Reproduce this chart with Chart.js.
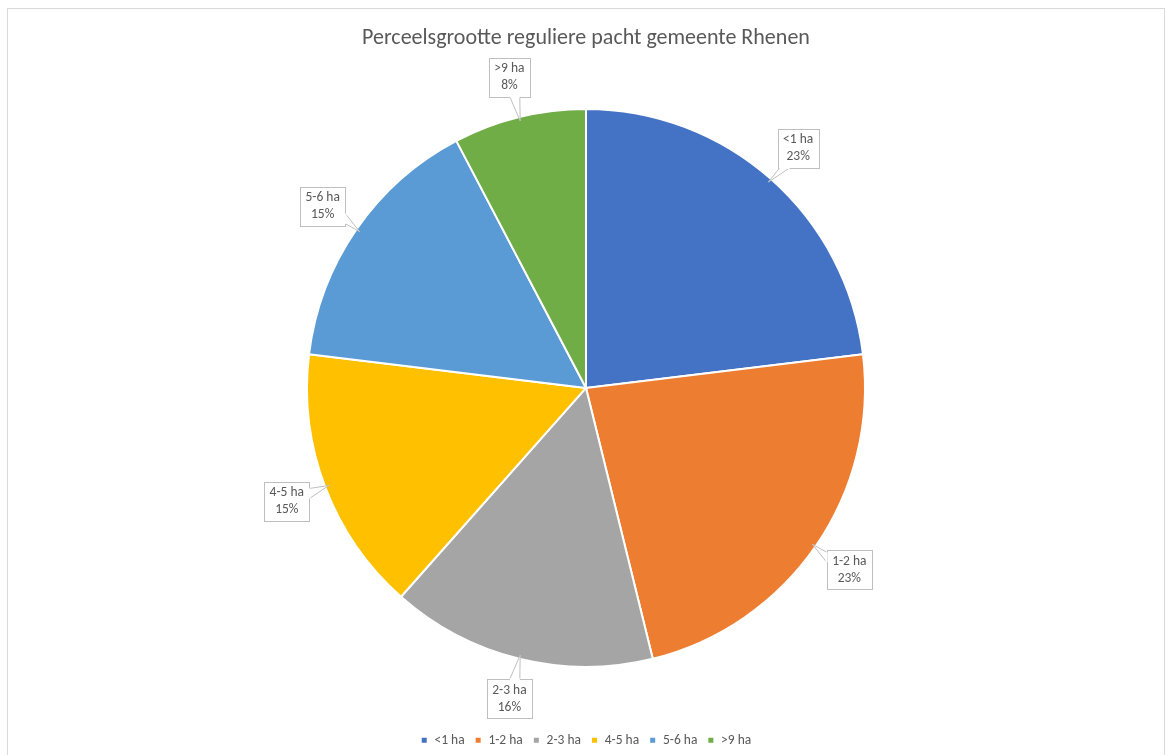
<!DOCTYPE html>
<html>
<head>
<meta charset="utf-8">
<script src="https://cdn.jsdelivr.net/npm/chart.js@4.4.1/dist/chart.umd.min.js"></script>
<style>
  html, body { margin: 0; padding: 0; background: #fff; overflow: hidden; }
  #frame { position: absolute; left: 7px; top: 8px; width: 1158px; height: 780px; border: 1px solid #d9d9d9; box-sizing: border-box; }
  #wrap { position: absolute; left: 0; top: 0; width: 1156px; height: 748px; }
</style>
</head>
<body>
<div id="frame"><div id="wrap"><canvas id="c"></canvas></div></div>
<script>
const categories = ['<1 ha', '1-2 ha', '2-3 ha', '4-5 ha', '5-6 ha', '>9 ha'];
const counts = [3, 3, 2, 2, 2, 1];
const percentLabels = ['23%', '23%', '16%', '15%', '15%', '8%'];
const colors = ['#4472C4', '#ED7D31', '#A5A5A5', '#FFC000', '#5B9BD5', '#70AD47'];
const titleText = 'Perceelsgrootte reguliere pacht gemeente Rhenen';

const FONT = "Carlito, Calibri, 'Open Sans', 'Liberation Sans', sans-serif";

const calloutPlugin = {
  id: 'callouts',
  afterDatasetsDraw(chart) {
    const ctx = chart.ctx;
    const meta = chart.getDatasetMeta(0);
    ctx.save();
    ctx.font = '13.5px ' + FONT;
    meta.data.forEach((arc, i) => {
      const p = arc.getProps(['x', 'y', 'startAngle', 'endAngle', 'outerRadius']);
      const mid = (p.startAngle + p.endAngle) / 2;
      const dist = p.outerRadius + 41;
      const cx = p.x + Math.cos(mid) * dist;
      const cy = p.y + Math.sin(mid) * dist;
      const l1 = categories[i], l2 = percentLabels[i];
      const w = Math.max(ctx.measureText(l1).width, ctx.measureText(l2).width) + 11;
      const h = 39;
      const bx = cx - w / 2, by = cy - h / 2;
      const tx = p.x + Math.cos(mid) * (p.outerRadius - 4);
      const ty = p.y + Math.sin(mid) * (p.outerRadius - 4);
      const vx = tx - cx, vy = ty - cy;
      let b1, b2;
      const half = 5;
      if (Math.abs(vx) / w > Math.abs(vy) / h) {
        const sx = vx > 0 ? bx + w : bx;
        let yy = Math.min(Math.max(cy + vy * 0.5, by + half + 2), by + h - half - 2);
        b1 = [sx, yy - half]; b2 = [sx, yy + half];
      } else {
        const sy = vy > 0 ? by + h : by;
        let xx = Math.min(Math.max(cx + vx * 0.5, bx + half + 2), bx + w - half - 2);
        b1 = [xx - half, sy]; b2 = [xx + half, sy];
      }
      ctx.lineWidth = 1;
      ctx.strokeStyle = '#bfbfbf';
      ctx.fillStyle = '#ffffff';
      ctx.fillRect(bx, by, w, h);
      ctx.strokeRect(Math.round(bx) + 0.5, Math.round(by) + 0.5, Math.round(w), Math.round(h));
      ctx.beginPath();
      ctx.moveTo(b1[0], b1[1]);
      ctx.lineTo(tx, ty);
      ctx.lineTo(b2[0], b2[1]);
      ctx.closePath();
      ctx.fill();
      ctx.beginPath();
      ctx.moveTo(b1[0], b1[1]);
      ctx.lineTo(tx, ty);
      ctx.lineTo(b2[0], b2[1]);
      ctx.stroke();
      ctx.beginPath();
      ctx.moveTo(b1[0], b1[1]);
      ctx.lineTo(b2[0], b2[1]);
      ctx.lineWidth = 2;
      ctx.strokeStyle = '#ffffff';
      ctx.stroke();
      ctx.fillStyle = '#595959';
      ctx.textAlign = 'center';
      ctx.textBaseline = 'middle';
      ctx.fillText(l1, cx, cy - 8.5);
      ctx.fillText(l2, cx, cy + 8.5);
    });
    ctx.restore();
  }
};

new Chart(document.getElementById('c'), {
  type: 'pie',
  data: {
    labels: categories,
    datasets: [{
      data: counts,
      backgroundColor: colors,
      borderColor: '#ffffff',
      borderWidth: 2,
      radius: 279
    }]
  },
  options: {
    responsive: true,
    maintainAspectRatio: false,
    animation: false,
    layout: { padding: 0 },
    plugins: {
      title: {
        display: true,
        text: titleText,
        color: '#595959',
        font: { family: FONT, size: 22, weight: 'normal' },
        padding: { top: 16, bottom: 1 }
      },
      legend: {
        position: 'bottom',
        labels: {
          color: '#595959',
          font: { family: FONT, size: 13.5 },
          boxWidth: 7,
          boxHeight: 7,
          padding: 10
        }
      },
      tooltip: { enabled: false }
    }
  },
  plugins: [calloutPlugin]
});
</script>
</body>
</html>
